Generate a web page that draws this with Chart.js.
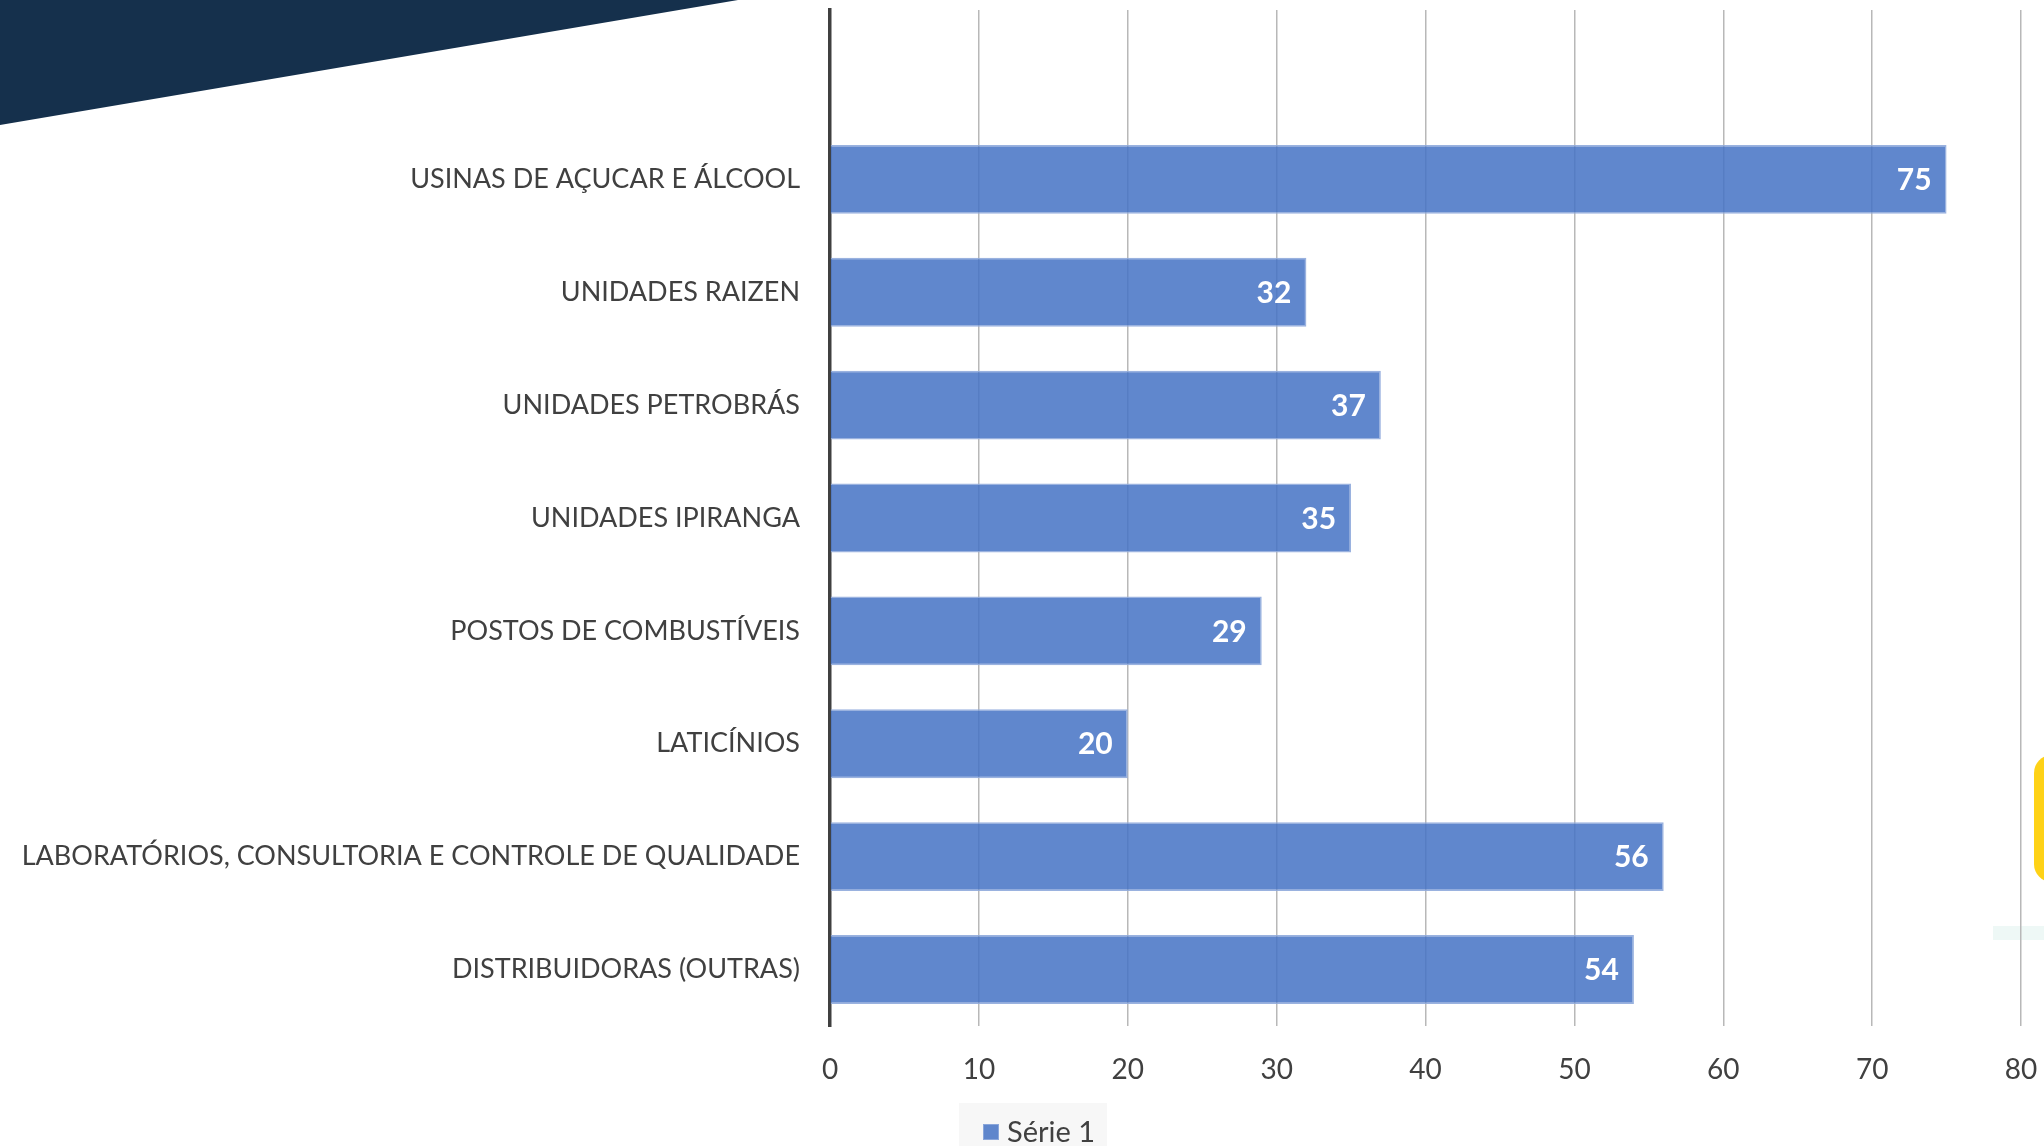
<!DOCTYPE html>
<html>
<head>
<meta charset="utf-8">
<script src="https://cdn.jsdelivr.net/npm/chart.js@4.4.0/dist/chart.umd.min.js"></script>
<style>
  html, body { margin: 0; padding: 0; background: #ffffff; overflow: hidden; }
  canvas { display: block; }
</style>
</head>
<body>
<canvas id="c" width="2044" height="1146"></canvas>
<script>
// ---- data ----
const categories = [
  '',
  'USINAS DE AÇUCAR E ÁLCOOL',
  'UNIDADES RAIZEN',
  'UNIDADES PETROBRÁS',
  'UNIDADES IPIRANGA',
  'POSTOS DE COMBUSTÍVEIS',
  'LATICÍNIOS',
  'LABORATÓRIOS, CONSULTORIA E CONTROLE DE QUALIDADE',
  'DISTRIBUIDORAS (OUTRAS)'
];
const serie1 = [null, 75, 32, 37, 35, 29, 20, 56, 54];
const seriesName = 'Série 1';
const xTicks = [0, 10, 20, 30, 40, 50, 60, 70, 80];

const FONT = 'Lato, "Open Sans", "Noto Sans", sans-serif';
const TEXT = '#404040';
const BAR = 'rgba(68,114,196,0.85)';
const BAR_BORDER = 'rgba(143,170,220,0.9)';

const decorPlugin = {
  id: 'decor',
  beforeDraw(chart) {
    const ctx = chart.ctx;
    ctx.save();
    ctx.fillStyle = '#ffffff';
    ctx.fillRect(0, 0, chart.width, chart.height);
    // dark banner top-left
    ctx.fillStyle = '#15304c';
    ctx.beginPath();
    ctx.moveTo(0, 0);
    ctx.lineTo(738, 0);
    ctx.lineTo(0, 125);
    ctx.closePath();
    ctx.fill();
    // yellow rounded shape at right edge
    ctx.fillStyle = '#fed217';
    ctx.beginPath();
    ctx.roundRect(2034, 755, 40, 127, 18);
    ctx.fill();
    // pale strip
    ctx.fillStyle = '#eef8f6';
    ctx.fillRect(1993, 926, 60, 14);
    ctx.restore();
  }
};

const labelPlugin = {
  id: 'barLabels',
  afterDatasetsDraw(chart) {
    const ctx = chart.ctx;
    const meta = chart.getDatasetMeta(0);
    const data = chart.data.datasets[0].data;
    ctx.save();
    ctx.font = 'bold 30px ' + FONT;
    ctx.fillStyle = '#ffffff';
    ctx.textAlign = 'right';
    ctx.textBaseline = 'middle';
    meta.data.forEach((bar, i) => {
      if (data[i] == null) return;
      ctx.fillText(String(data[i]), bar.x - 15, bar.y + 1);
    });
    ctx.restore();
  }
};

const legendPlugin = {
  id: 'customLegend',
  afterDraw(chart) {
    const ctx = chart.ctx;
    const ds = chart.data.datasets[0];
    ctx.save();
    ctx.fillStyle = '#f7f7f7';
    ctx.fillRect(959, 1103, 148, 50);
    ctx.fillStyle = ds.backgroundColor;
    ctx.fillRect(983, 1124, 16, 16);
    ctx.strokeStyle = ds.borderColor;
    ctx.lineWidth = 1;
    ctx.strokeRect(983.5, 1124.5, 15, 15);
    ctx.fillStyle = TEXT;
    ctx.font = '29px ' + FONT;
    ctx.textAlign = 'left';
    ctx.textBaseline = 'middle';
    ctx.fillText(ds.label, 1007, 1133);
    ctx.restore();
  }
};

new Chart(document.getElementById('c'), {
  type: 'bar',
  data: {
    labels: categories,
    datasets: [{
      label: seriesName,
      data: serie1,
      backgroundColor: BAR,
      borderColor: BAR_BORDER,
      borderWidth: 1.5,
      borderSkipped: 'start',
      categoryPercentage: 1,
      barPercentage: 0.61
    }]
  },
  options: {
    indexAxis: 'y',
    responsive: false,
    animation: false,
    devicePixelRatio: 1,
    layout: { padding: { top: 10, right: 23, left: 0, bottom: 0 } },
    plugins: {
      legend: { display: false },
      tooltip: { enabled: false }
    },
    scales: {
      x: {
        type: 'linear',
        min: xTicks[0],
        max: xTicks[xTicks.length - 1],
        afterBuildTicks(scale) { scale.ticks = xTicks.map(v => ({ value: v })); },
        afterFit(scale) {
          scale.height = 120;
          scale.paddingLeft = 0; scale.paddingRight = 0;
        },
        grid: { color: '#b8b8b8', lineWidth: 1.5, drawTicks: false },
        border: { display: false },
        ticks: { color: TEXT, font: { family: FONT, size: 28 }, padding: 27 }
      },
      y: {
        type: 'category',
        afterFit(scale) {
          scale.width = 830;
          scale.paddingTop = 0; scale.paddingBottom = 0;
        },
        grid: { display: false, drawTicks: false },
        border: { display: true, color: '#404040', width: 3.5 },
        ticks: { color: TEXT, font: { family: FONT, size: 27 }, padding: 30, autoSkip: false }
      }
    }
  },
  plugins: [decorPlugin, labelPlugin, legendPlugin]
});
</script>
</body>
</html>
